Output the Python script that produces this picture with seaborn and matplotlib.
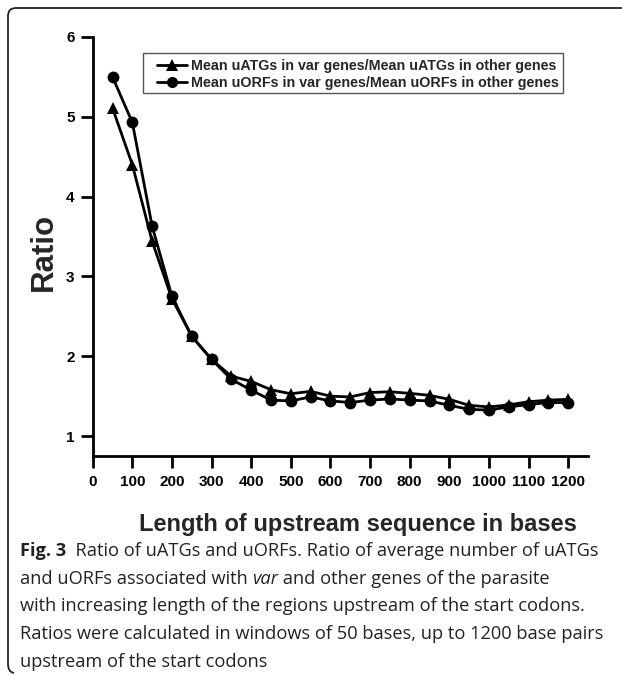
import matplotlib
matplotlib.use("Agg")
import matplotlib.pyplot as plt
import seaborn as sns
import pandas as pd
from matplotlib.path import Path
from matplotlib.patches import PathPatch, Rectangle

# ---- data ----
lengths = [50, 100, 150, 200, 250, 300, 350, 400, 450, 500, 550, 600,
           650, 700, 750, 800, 850, 900, 950, 1000, 1050, 1100, 1150, 1200]
uatg_ratio = [5.11, 4.40, 3.44, 2.72, 2.25, 1.96, 1.75, 1.685, 1.58, 1.53, 1.56, 1.50,
              1.49, 1.545, 1.555, 1.535, 1.51, 1.46, 1.385, 1.365, 1.39, 1.43, 1.45, 1.46]
uorf_ratio = [5.50, 4.93, 3.63, 2.75, 2.25, 1.96, 1.71, 1.575, 1.45, 1.44, 1.49, 1.44,
              1.42, 1.45, 1.465, 1.45, 1.44, 1.385, 1.335, 1.325, 1.365, 1.395, 1.42, 1.42]
series_names = ["Mean uATGs in var genes/Mean uATGs in other genes",
                "Mean uORFs in var genes/Mean uORFs in other genes"]
x_ticks = list(range(0, 1201, 100))
y_ticks = [1, 2, 3, 4, 5, 6]
x_label = "Length of upstream sequence in bases"
y_label = "Ratio"

df = pd.concat([
    pd.DataFrame({"length": lengths, "ratio": uatg_ratio, "series": series_names[0]}),
    pd.DataFrame({"length": lengths, "ratio": uorf_ratio, "series": series_names[1]}),
])

sns.set_style("ticks")
plt.rcParams['font.family'] = ['Liberation Sans', 'DejaVu Sans']

W, H = 622, 675
fig = plt.figure(figsize=(W / 100, H / 100), dpi=100)
ax = fig.add_axes([92.7 / W, 1 - 456 / H, (588 - 92.7) / W, (456 - 37) / H])

sns.lineplot(data=df, x="length", y="ratio", style="series", markers={series_names[0]: "^", series_names[1]: "o"},
             dashes=False, color="black", linewidth=2.0, markersize=8.5, markeredgewidth=0,
             ax=ax, legend=True)

ax.set_xlim(0, 1250)
ax.set_ylim(0.75, 6)
ax.set_xticks(x_ticks)
ax.set_yticks(y_ticks)
for s in ["top", "right"]:
    ax.spines[s].set_visible(False)
for s in ["left", "bottom"]:
    ax.spines[s].set_linewidth(2)
    ax.spines[s].set_color("black")
ax.tick_params(axis="both", direction="out", length=8.5, width=2, colors="black", labelsize=11)
ax.tick_params(axis="x", pad=5.5)
ax.tick_params(axis="y", pad=4.5)
for lab in ax.get_xticklabels() + ax.get_yticklabels():
    lab.set_fontweight("bold")

ax.set_xlabel(x_label, fontsize=17, fontweight="bold")
ax.set_ylabel(y_label, fontsize=22.5, fontweight="bold")
ax.xaxis.set_label_coords(0.535, -0.136)
ax.yaxis.set_label_coords(-0.068, 0.487)

# legend (frame drawn separately to match the wide left padding)
leg = ax.legend(loc="upper left", bbox_to_anchor=((157 - 92.7) / 495.3, (456 - 59) / 419),
                frameon=False, fontsize=10.3, handlelength=2.1, handletextpad=0.25,
                borderpad=0, labelspacing=0.22, borderaxespad=0)
for t in leg.get_texts():
    t.set_fontweight("bold")
for h in leg.legend_handles:
    h.set_markersize(8)
fig.add_artist(Rectangle((143 / W, 1 - 93 / H), (563 - 143) / W, 40 / H, transform=fig.transFigure,
                         fill=False, edgecolor="#555555", linewidth=1.0))

# ---- rounded frame (figure pixel coords) ----
verts = [(W + 5, 8), (16, 8), (8, 8), (8, 16), (8, 664), (8, 672), (14, 673)]
codes = [Path.MOVETO, Path.LINETO, Path.CURVE3, Path.CURVE3, Path.LINETO, Path.CURVE3, Path.CURVE3]
verts = [(x / W, 1 - y / H) for x, y in verts]
fig.add_artist(PathPatch(Path(verts, codes), transform=fig.transFigure, fill=False,
                         edgecolor="#222222", linewidth=1.3))

# ---- caption ----
cap_font = ['Open Sans', 'DejaVu Sans']
cap_size = 13.15
lines = [
    [("Fig. 3", "bold", "normal"), ("  Ratio of uATGs and uORFs. Ratio of average number of uATGs", "normal", "normal")],
    [("and uORFs associated with ", "normal", "normal"), ("var", "normal", "italic"), (" and other genes of the parasite", "normal", "normal")],
    [("with increasing length of the regions upstream of the start codons.", "normal", "normal")],
    [("Ratios were calculated in windows of 50 bases, up to 1200 base pairs", "normal", "normal")],
    [("upstream of the start codons", "normal", "normal")],
]
centers = [549, 577, 604, 632, 660]
fig.canvas.draw()
renderer = fig.canvas.get_renderer()
for parts, yc in zip(lines, centers):
    x = 20
    for txt, wt, st in parts:
        t = fig.text(x / W, 1 - yc / H, txt, family=cap_font, fontsize=cap_size, fontweight=wt,
                     fontstyle=st, va="center_baseline", ha="left", color="#222222")
        bb = t.get_window_extent(renderer=renderer)
        x += bb.width

fig.savefig("out.png", dpi=100)
